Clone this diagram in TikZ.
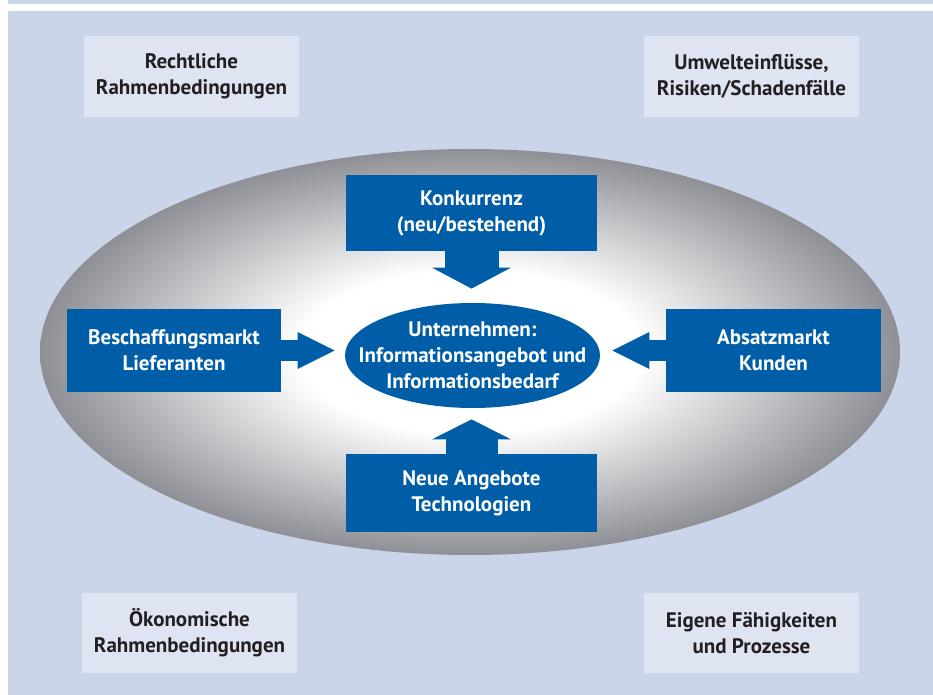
\documentclass[tikz,border=0pt]{standalone}
\usepackage{fontspec}
\setmainfont{PT Sans}
\usepackage{xcolor}
\usepackage{tikz}
\usetikzlibrary{arrows.meta, shapes.geometric}
\definecolor{panelbg}{RGB}{203,213,233}
\definecolor{cornerbg}{RGB}{223,228,243}
\definecolor{corpblue}{RGB}{0,94,168}
\definecolor{ringgray}{RGB}{142,144,149}
\definecolor{textdark}{RGB}{35,31,32}
\pgfdeclareradialshading{ringshade}{\pgfpoint{0bp}{0bp}}{color(0bp)=(white); color(10bp)=(white); color(25bp)=(ringgray); color(50bp)=(ringgray)}
\tikzset{
  labelfont/.style={font=\bfseries\fontsize{10.5}{13}\selectfont},
  cornerbox/.style={labelfont, fill=cornerbg, text=textdark, align=center, inner sep=0pt, minimum width=107.5pt, minimum height=40.5pt},
  bluebox/.style={labelfont, fill=corpblue, text=white, align=center, inner sep=0pt},
  blockarrow/.style n args={3}{draw=corpblue, line width=#1, -{Triangle[width=#2, length=#3, line width=0pt, fill=corpblue]}}
}

\begin{document}
\begin{tikzpicture}[x=0.5pt, y=-0.5pt]
\useasboundingbox (0,0) rectangle (933,695);
% Background
\fill[white] (0,0) rectangle (933,695);
\fill[panelbg] (8,0) rectangle (933,3.7);
\fill[panelbg] (8,11) rectangle (933,695);
% Outer conditions
\node[cornerbox] (recht) at (191.5,76.5) {Rechtliche\\Rahmenbedingungen};
\node[cornerbox] (umwelt) at (751.5,76.5) {Umwelteinflüsse,\\Risiken/Schadenfälle};
\node[cornerbox, minimum height=40pt] (oekon) at (189.5,633) {Ökonomische\\Rahmenbedingungen};
\node[cornerbox, minimum height=40pt] (eigene) at (751.5,633) {Eigene Fähigkeiten\\und Prozesse};
% Market environment
\node[ellipse, shading=ringshade, inner sep=0pt, minimum width=430pt, minimum height=203pt] (ring) at (470,352) {};
% Center
\node[ellipse, fill=corpblue, inner sep=0pt, minimum width=127.5pt, minimum height=52.5pt] (unt) at (472.5,355.5) {};
\node[bluebox, fill=none] (unttext) at (unt) {Unternehmen:\\Informationsangebot und\\Informationsbedarf};
% Forces
\node[bluebox, minimum width=125.5pt, minimum height=38pt] (konk) at (471.5,213) {Konkurrenz\\(neu/bestehend)};
\node[bluebox, minimum width=125.5pt, minimum height=39pt] (neue) at (471.5,493) {Neue Angebote\\Technologien};
\node[bluebox, minimum width=107pt, minimum height=41.5pt] (besch) at (174,350.5) {Beschaffungsmarkt\\Lieferanten};
\node[bluebox, minimum width=107.5pt, minimum height=41.5pt] (absatz) at (773.5,350.5) {Absatzmarkt\\Kunden};
% Arrows
\draw[blockarrow={27pt}{39.5pt}{10.5pt}, shorten >=7pt] (konk.south) -- (konk.south |- unt.north);
\draw[blockarrow={26pt}{39.5pt}{10pt}, shorten >=5.5pt] (neue.north) -- (neue.north |- unt.south);
\draw[blockarrow={10.5pt}{18.5pt}{18.5pt}, shorten >=5pt] (besch.east) -- (besch.east -| unt.west);
\draw[blockarrow={10.5pt}{18.5pt}{18.5pt}, shorten >=6pt] (absatz.west) -- (absatz.west -| unt.east);
\end{tikzpicture}
\end{document}
